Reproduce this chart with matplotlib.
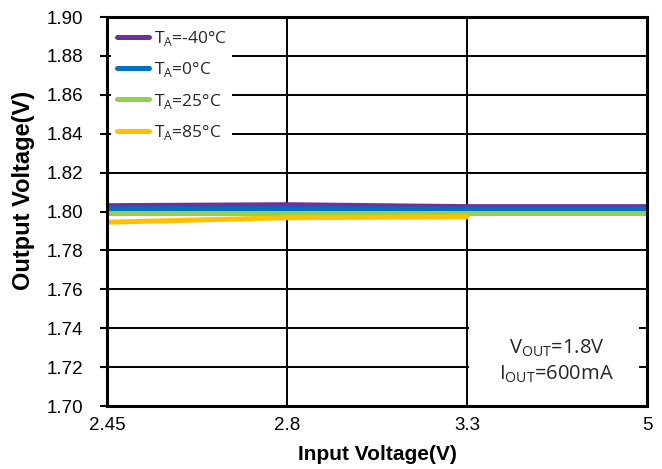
import matplotlib
matplotlib.use("Agg")
import matplotlib.pyplot as plt
from matplotlib.patches import Rectangle
import numpy as np

# input voltage points (plotted as evenly spaced categories)
vin_labels = ["2.45", "2.8", "3.3", "5"]

vout_m40 = [1.8030, 1.8035, 1.8025, 1.8025]
vout_0 = [1.8014, 1.8014, 1.8012, 1.8012]
vout_25 = [1.7990, 1.7990, 1.7990, 1.7990]
vout_85 = [1.7945, 1.7968, 1.7973]

series = [
    ("T$_\\mathregular{A}$=-40°C", vout_m40, "#7030a0"),
    ("T$_\\mathregular{A}$=0°C", vout_0, "#0070c0"),
    ("T$_\\mathregular{A}$=25°C", vout_25, "#92d050"),
    ("T$_\\mathregular{A}$=85°C", vout_85, "#ffc000"),
]

plt.rcParams["font.family"] = ["Liberation Sans", "DejaVu Sans"]
plt.rcParams["mathtext.fontset"] = "custom"
plt.rcParams["mathtext.rm"] = "Open Sans"

fig = plt.figure(figsize=(6.62, 4.69), dpi=100)
ax = fig.add_axes([107 / 662, 1 - 406 / 469, (647 - 107) / 662, (406 - 17) / 469])

for label, vals, color in series:
    x = np.arange(len(vals))
    ax.plot(x, vals, color=color, lw=3.6, solid_capstyle="round", label=label,
            zorder=4)

yticks = np.arange(1.70, 1.9001, 0.02)
ax.set_xlim(0, 3)
ax.set_ylim(1.70, 1.90)
ax.set_xticks(np.arange(len(vin_labels)))
ax.set_xticklabels(vin_labels)
ax.set_yticks(yticks)
ax.set_yticklabels([f"{v:.2f}" for v in yticks])
ax.tick_params(labelsize=13.5, width=1.5, direction="out")
ax.tick_params(axis="y", length=5, pad=12)
ax.tick_params(axis="x", length=0, pad=8)
ax.grid(True, color="black", lw=1.4)
ax.set_axisbelow(True)
for s in ax.spines.values():
    s.set_linewidth(2.2)
    s.set_zorder(5)

ax.set_xlabel("Input Voltage(V)", fontsize=15, fontweight="bold", va="center")
ax.xaxis.set_label_coords(0.5, -0.125)
ax.set_ylabel("Output Voltage(V)", fontsize=17, fontweight="bold", va="center")
ax.yaxis.set_label_coords(-0.155, 0.553)

leg = ax.legend(loc="upper left", bbox_to_anchor=(0.008, 0.982), frameon=True,
                fancybox=False, framealpha=1, edgecolor="white",
                handlelength=1.85, handletextpad=0.3, labelspacing=0.7,
                borderpad=0.3, borderaxespad=0.0,
                prop={"family": ["Open Sans", "DejaVu Sans"], "size": 12.5})
leg.get_frame().set_linewidth(0)
leg.set_zorder(3)
for t in leg.get_texts():
    t.set_color("#262626")

# white panel behind the test conditions note
ax.add_patch(Rectangle((0.67, 0.003), 0.315, 0.245, transform=ax.transAxes,
                       fc="white", ec="none", zorder=2))
ax.text(0.832, 0.115, "V$_\\mathregular{OUT}$=1.8V\nI$_\\mathregular{OUT}$=600mA",
        transform=ax.transAxes, ha="center", va="center", fontsize=14.5,
        family=["Open Sans", "DejaVu Sans"], linespacing=1.25, zorder=3,
        color="#262626")

fig.savefig("out.png", dpi=100)
